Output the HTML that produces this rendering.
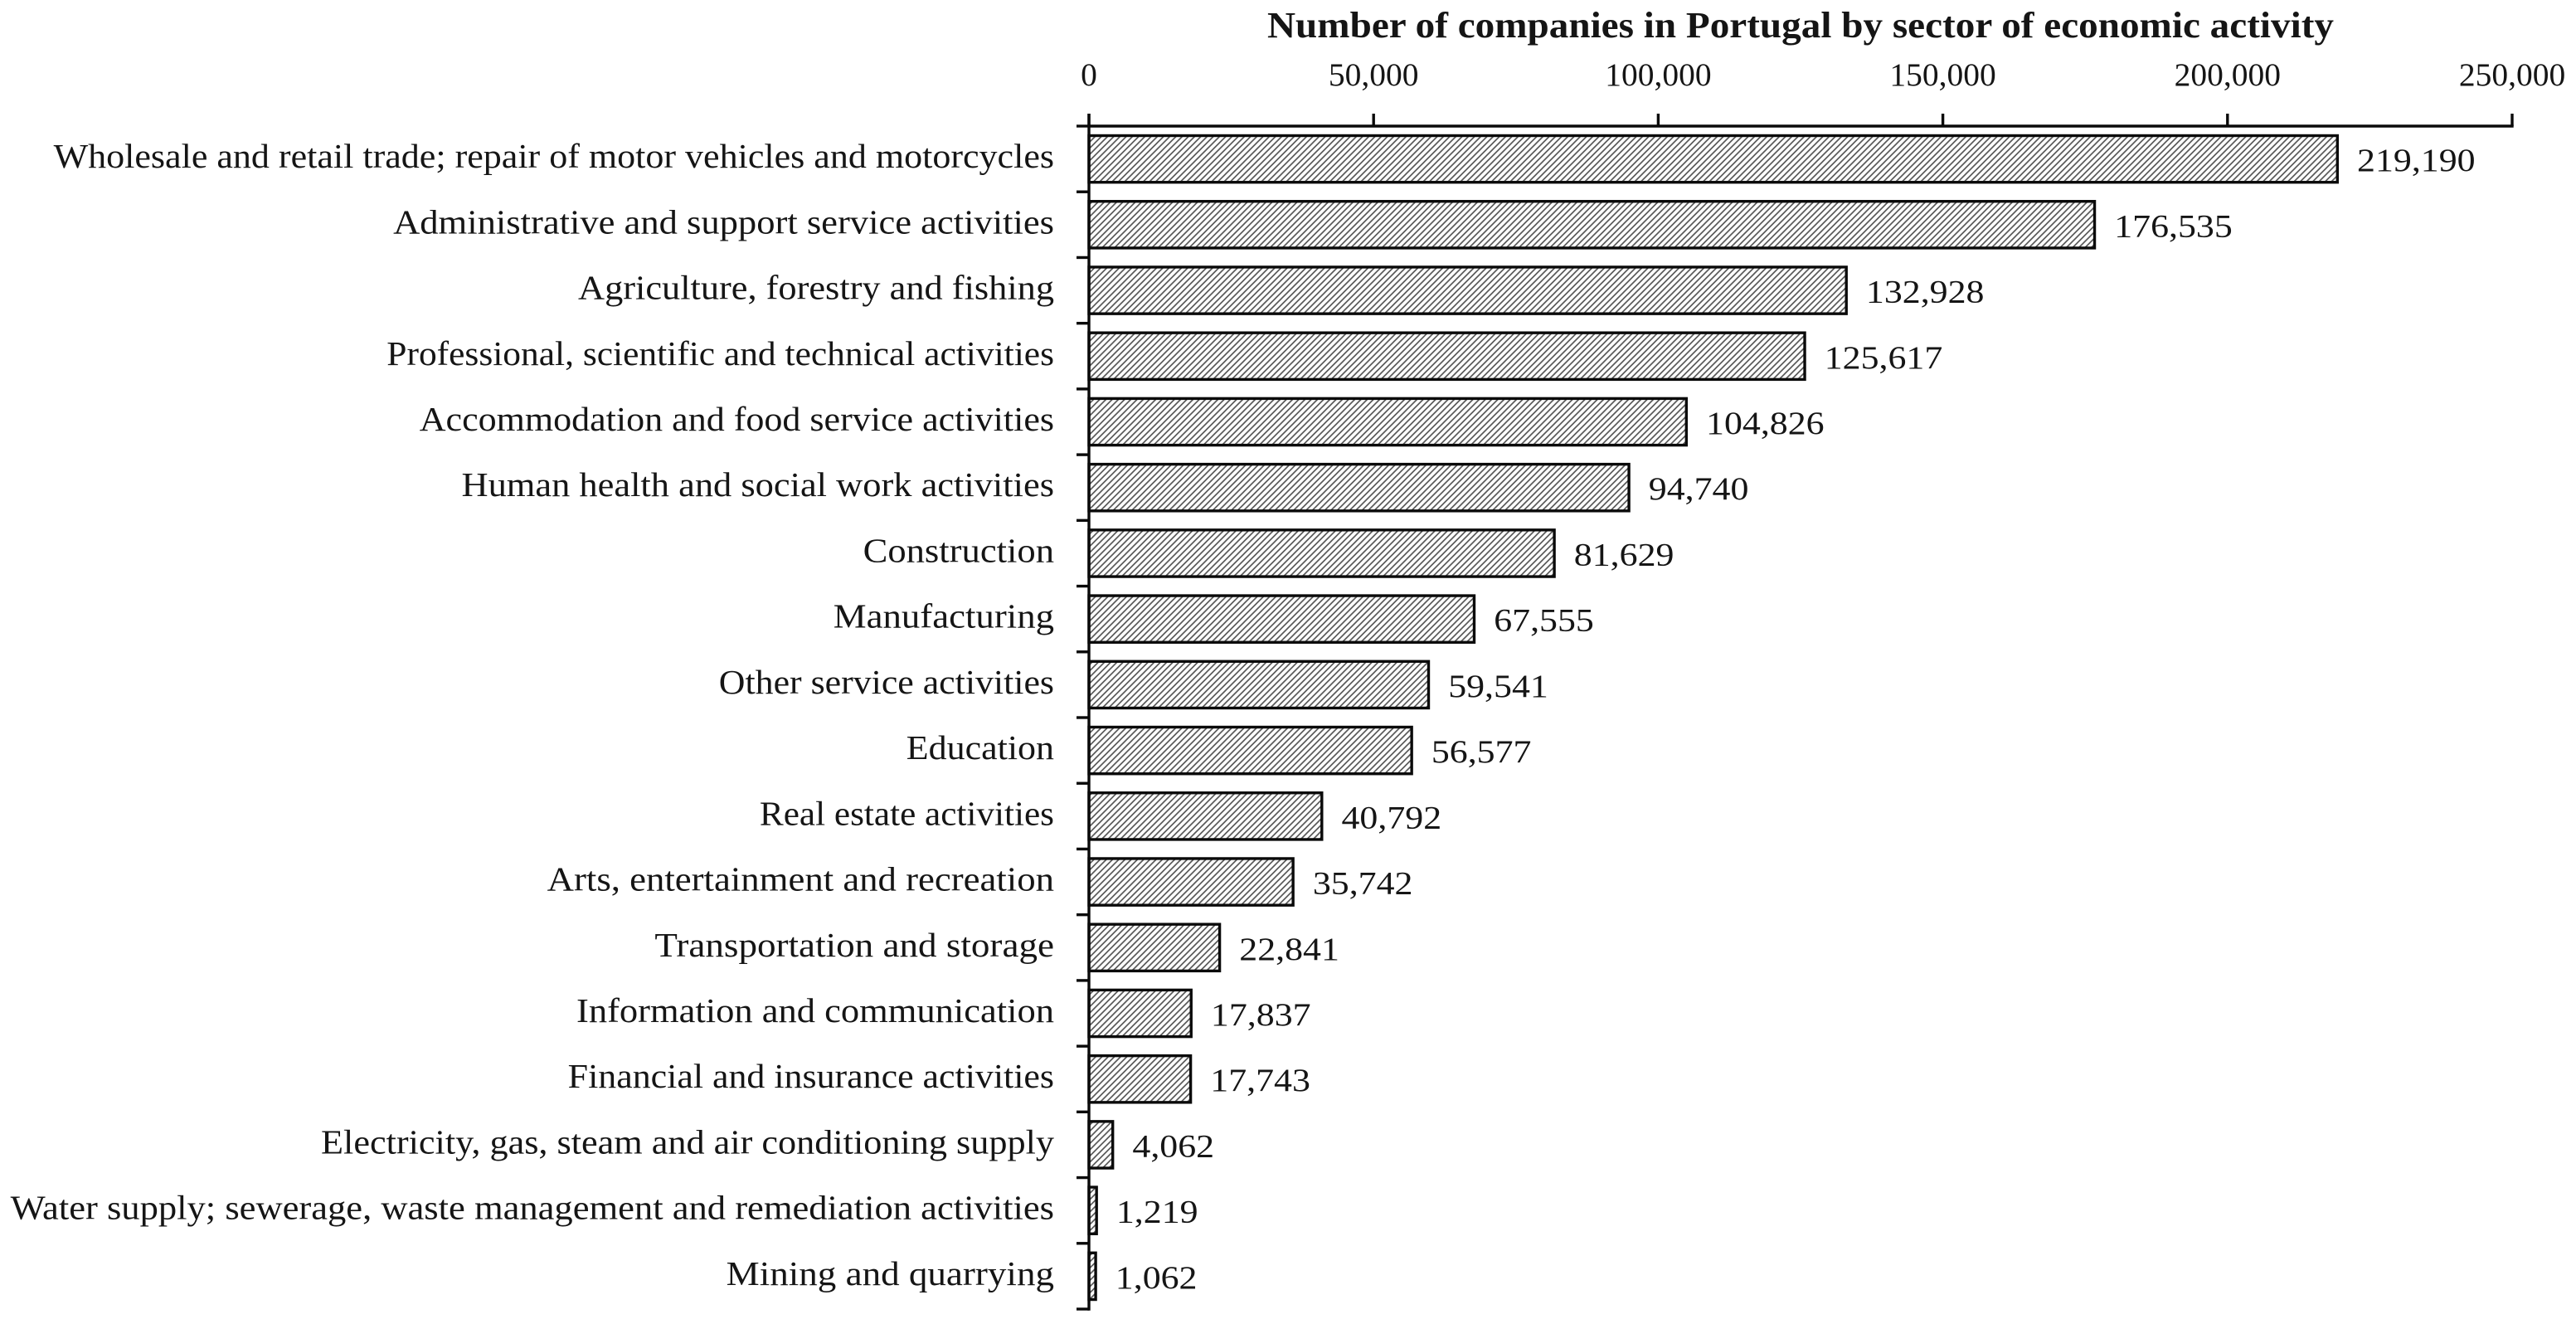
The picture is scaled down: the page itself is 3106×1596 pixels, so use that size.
<!DOCTYPE html>
<html lang="en">
<head>
<meta charset="utf-8">
<title>Number of companies in Portugal by sector of economic activity</title>
<style>
html,body{margin:0;padding:0;background:#fff;width:3106px;height:1596px;overflow:hidden}
svg{display:block}
text{font-family:"Liberation Serif",serif;fill:#151515}
</style>
</head>
<body>
<svg id="chart" xmlns="http://www.w3.org/2000/svg" width="3106" height="1596" viewBox="0 0 3106 1596">
<defs>
<pattern id="hatch" patternUnits="userSpaceOnUse" width="7.5" height="7.5">
<path d="M-1.875,1.875 L1.875,-1.875 M0,7.5 L7.5,0 M5.625,9.375 L9.375,5.625" stroke="#5a5a5a" stroke-width="1.7" fill="none"/>
</pattern>
</defs>
<text x="2171" y="45" text-anchor="middle" font-size="44" font-weight="bold" textLength="1286" lengthAdjust="spacingAndGlyphs">Number of companies in Portugal by sector of economic activity</text>
<g id="plot"></g>
</svg>
<script>
const categories = [
  "Wholesale and retail trade; repair of motor vehicles and motorcycles",
  "Administrative and support service activities",
  "Agriculture, forestry and fishing",
  "Professional, scientific and technical activities",
  "Accommodation and food service activities",
  "Human health and social work activities",
  "Construction",
  "Manufacturing",
  "Other service activities",
  "Education",
  "Real estate activities",
  "Arts, entertainment and recreation",
  "Transportation and storage",
  "Information and communication",
  "Financial and insurance activities",
  "Electricity, gas, steam and air conditioning supply",
  "Water supply; sewerage, waste management and remediation activities",
  "Mining and quarrying"
];
const companies = [219190,176535,132928,125617,104826,94740,81629,67555,59541,56577,40792,35742,22841,17837,17743,4062,1219,1062];
const tickValues = [0,50000,100000,150000,200000,250000];

/* Typographic fit only (horizontal glyph stretch per label); not chart data. */
const labelGlyphStretch = [1.074,1.087,1.082,1.06,1.074,1.084,1.088,1.093,1.07,1.072,1.054,1.092,1.1,1.086,1.071,1.079,1.087,1.099];

const NS = "http://www.w3.org/2000/svg";
const plot = document.getElementById("plot");
const X0 = 1313, X1 = 3029, Y0 = 152, Y1 = 1578, AXIS_MAX = 250000;
const xScale = v => X0 + (v / AXIS_MAX) * (X1 - X0);
const band = (Y1 - Y0) / categories.length;
const bandTop = i => Y0 + i * band;
const fmt = v => v.toString().replace(/\B(?=(\d{3})+$)/g, ",");

function mk(tag, attrs, text) {
  const el = document.createElementNS(NS, tag);
  for (const k in attrs) el.setAttribute(k, attrs[k]);
  if (text !== undefined) el.textContent = text;
  plot.appendChild(el);
  return el;
}

categories.forEach((name, i) => {
  const top = bandTop(i);
  const barTop = top + 11.5;
  const barH = band - 23;
  const right = xScale(companies[i]);

  const bar = mk("rect", {x: X0, y: barTop, width: right - X0 + 0.8, height: barH, fill: "url(#hatch)", stroke: "#0a0a0a", "stroke-width": 3.4});
  
  

  const label = mk("text", {"text-anchor": "end", "font-size": 41, transform: `translate(1271 ${top + band / 2 + 10.5}) scale(${labelGlyphStretch[i]} 1)`}, name);
  
  

  const value = mk("text", {"font-size": 39, transform: `translate(${right + 24.5} ${top + band / 2 + 14.5}) scale(1.125 1)`}, fmt(companies[i]));
  
  

  const tick = mk("line", {x1: 1298, x2: X0, y1: top, y2: top, stroke: "#0a0a0a", "stroke-width": 3.4});
  
  
});

const lastTick = mk("line", {x1: 1298, x2: X0, y1: Y1, y2: Y1, stroke: "#0a0a0a", "stroke-width": 3.4});



const yAxis = mk("line", {x1: X0, x2: X0, y1: 137, y2: Y1 + 1.7, stroke: "#0a0a0a", "stroke-width": 3.4});



const xAxis = mk("line", {x1: X0, x2: X1 + 1.7, y1: Y0, y2: Y0, stroke: "#0a0a0a", "stroke-width": 3.4});



tickValues.forEach(v => {
  const x = xScale(v);
  const tick = mk("line", {x1: x, x2: x, y1: 137, y2: Y0, stroke: "#0a0a0a", "stroke-width": 3.4});
  
  
  const lab = mk("text", {x: x, y: 103, "text-anchor": "middle", "font-size": 39.5}, fmt(v));
  
  
});
</script>
</body>
</html>
